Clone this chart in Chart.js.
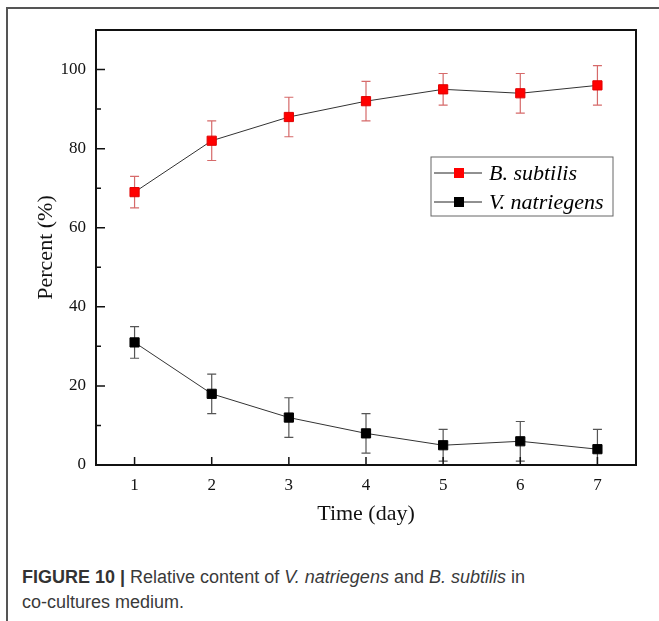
<!DOCTYPE html>
<html>
<head>
<meta charset="utf-8">
<script src="https://cdn.jsdelivr.net/npm/chart.js@4.4.1/dist/chart.umd.min.js"></script>
<style>
  html, body { margin: 0; padding: 0; background: #fff; }
  body { width: 659px; height: 621px; position: relative; overflow: hidden; }
  .frame-top { position: absolute; left: 7px; top: 7px; right: 0; height: 0; border-top: 2px solid #555; }
  .frame-left { position: absolute; left: 6px; top: 7px; bottom: 0; width: 0; border-left: 2px solid #555; }
  #wrap { position: absolute; left: 0; top: 0; width: 659px; height: 540px; }
  .caption {
    position: absolute; left: 22px; top: 565px;
    font-family: "Liberation Sans", Arial, sans-serif; font-size: 18px; line-height: 25px;
    color: #3a3a3a; white-space: nowrap;
  }
  .caption b { color: #333; }
</style>
</head>
<body>
<div class="frame-top"></div>
<div class="frame-left"></div>
<div id="wrap"><canvas id="chart" width="659" height="540"></canvas></div>
<div class="caption"><b>FIGURE 10 |</b> Relative content of <i>V. natriegens</i> and <i>B. subtilis</i> in<br>co-cultures medium.</div>

<script>
// ---------------- DATA ----------------

const days = ["1", "2", "3", "4", "5", "6", "7"];

const bSubtilis = [69, 82, 88, 92, 95, 94, 96];
const bSubtilisErr = [4, 5, 5, 5, 4, 5, 5];

const vNatriegens = [31, 18, 12, 8, 5, 6, 4];
const vNatriegensErr = [4, 5, 5, 5, 4, 5, 5];

const yTicks = [0, 20, 40, 60, 80, 100];
const yMinorTicks = [10, 30, 50, 70, 90];

// ---------------- PLUGINS ----------------

// error bars, drawn under the markers and clipped to the plot box
const errorBars = {
    id: "errorBars",
    beforeDatasetsDraw(chart) {
        const ctx = chart.ctx;
        const a = chart.chartArea;
        const xs = chart.scales.x;
        const ys = chart.scales.y;
        ctx.save();
        ctx.beginPath();
        ctx.rect(a.left, a.top, a.right - a.left, a.bottom - a.top);
        ctx.clip();
        chart.data.datasets.forEach(ds => {
            ctx.strokeStyle = ds.errColor;
            ctx.lineWidth = 1.2;
            ds.data.forEach((v, i) => {
                const x = xs.getPixelForValue(i);
                const top = ys.getPixelForValue(v + ds.err[i]);
                const bot = ys.getPixelForValue(v - ds.err[i]);
                ctx.beginPath();
                ctx.moveTo(x, top); ctx.lineTo(x, bot);
                ctx.moveTo(x - 4.5, top); ctx.lineTo(x + 4.5, top);
                ctx.moveTo(x - 4.5, bot); ctx.lineTo(x + 4.5, bot);
                ctx.stroke();
            });
        });
        ctx.restore();
    }
};

// box frame and inward tick marks
const frameTicks = {
    id: "frameTicks",
    afterDraw(chart) {
        const ctx = chart.ctx;
        const a = chart.chartArea;
        const xs = chart.scales.x;
        const ys = chart.scales.y;
        ctx.save();
        ctx.strokeStyle = "#111";
        ctx.lineWidth = 1.5;
        ctx.beginPath();
        yTicks.forEach(v => {
            const y = ys.getPixelForValue(v);
            ctx.moveTo(a.left, y); ctx.lineTo(a.left + 9, y);
        });
        yMinorTicks.forEach(v => {
            const y = ys.getPixelForValue(v);
            ctx.moveTo(a.left, y); ctx.lineTo(a.left + 5, y);
        });
        days.forEach((d, i) => {
            const x = xs.getPixelForValue(i);
            ctx.moveTo(x, a.bottom); ctx.lineTo(x, a.bottom - 8);
        });
        ctx.stroke();
        ctx.lineWidth = 2;
        ctx.strokeRect(a.left, a.top, a.right - a.left, a.bottom - a.top);
        ctx.restore();
    }
};

// legend box inside the plot
const boxLegend = {
    id: "boxLegend",
    afterDraw(chart, args, opts) {
        const ctx = chart.ctx;
        ctx.save();
        ctx.strokeStyle = "#666";
        ctx.lineWidth = 1;
        ctx.strokeRect(opts.x, opts.y, opts.w, opts.h);
        ctx.font = "italic 22px 'Liberation Serif', serif";
        ctx.textBaseline = "middle";
        chart.data.datasets.forEach((ds, i) => {
            const cy = opts.y + 16 + i * 29;
            const lx = opts.x + 3;
            ctx.strokeStyle = "#222";
            ctx.beginPath();
            ctx.moveTo(lx, cy); ctx.lineTo(lx + 48, cy);
            ctx.stroke();
            ctx.fillStyle = ds.backgroundColor;
            ctx.fillRect(lx + 20, cy - 5, 10, 10);
            ctx.fillStyle = "#000";
            ctx.fillText(ds.label, opts.x + 58, cy + 1);
        });
        ctx.restore();
    }
};

// ---------------- CHART ----------------

const serif = "'Liberation Serif', 'Times New Roman', serif";

const chart = new Chart(document.getElementById("chart").getContext("2d"), {
    type: "line",
    data: {
        labels: days,
        datasets: [{
            label: "B. subtilis",
            data: bSubtilis,
            err: bSubtilisErr,
            errColor: "#d66a6a",
            borderColor: "#333",
            borderWidth: 1,
            backgroundColor: "#ff0000",
            pointBackgroundColor: "#ff0000",
            pointBorderColor: "#e00000",
            pointBorderWidth: 1,
            pointStyle: "rect",
            pointRadius: 6.5,
            tension: 0
        }, {
            label: "V. natriegens",
            data: vNatriegens,
            err: vNatriegensErr,
            errColor: "#555",
            borderColor: "#333",
            borderWidth: 1,
            backgroundColor: "#000",
            pointBackgroundColor: "#000",
            pointBorderColor: "#000",
            pointBorderWidth: 1,
            pointStyle: "rect",
            pointRadius: 6.5,
            tension: 0
        }]
    },
    options: {
        responsive: false,
        animation: false,
        layout: { padding: { top: 30, right: 23, left: 0, bottom: 0 } },
        plugins: {
            legend: { display: false },
            tooltip: { enabled: false },
            boxLegend: { x: 431, y: 157, w: 182, h: 59 }
        },
        scales: {
            x: {
                type: "category",
                offset: true,
                grid: { display: false, drawTicks: false },
                border: { display: false },
                ticks: { color: "#111", padding: 10, font: { family: serif, size: 17 } },
                title: { display: true, text: "Time (day)", color: "#111", padding: { bottom: 13 }, font: { family: serif, size: 22 } },
                afterFit(scale) { scale.height = 75; }
            },
            y: {
                min: 0,
                max: 110,
                grid: { display: false, drawTicks: false },
                border: { display: false },
                afterBuildTicks(scale) { scale.ticks = yTicks.map(v => ({ value: v })); },
                ticks: { color: "#111", padding: 10, font: { family: serif, size: 17 } },
                title: { display: true, text: "Percent (%)", color: "#111", padding: { top: 33 }, font: { family: serif, size: 22 } },
                afterFit(scale) { scale.width = 96; }
            }
        }
    },
    plugins: [errorBars, frameTicks, boxLegend]
});
</script>
</body>
</html>
